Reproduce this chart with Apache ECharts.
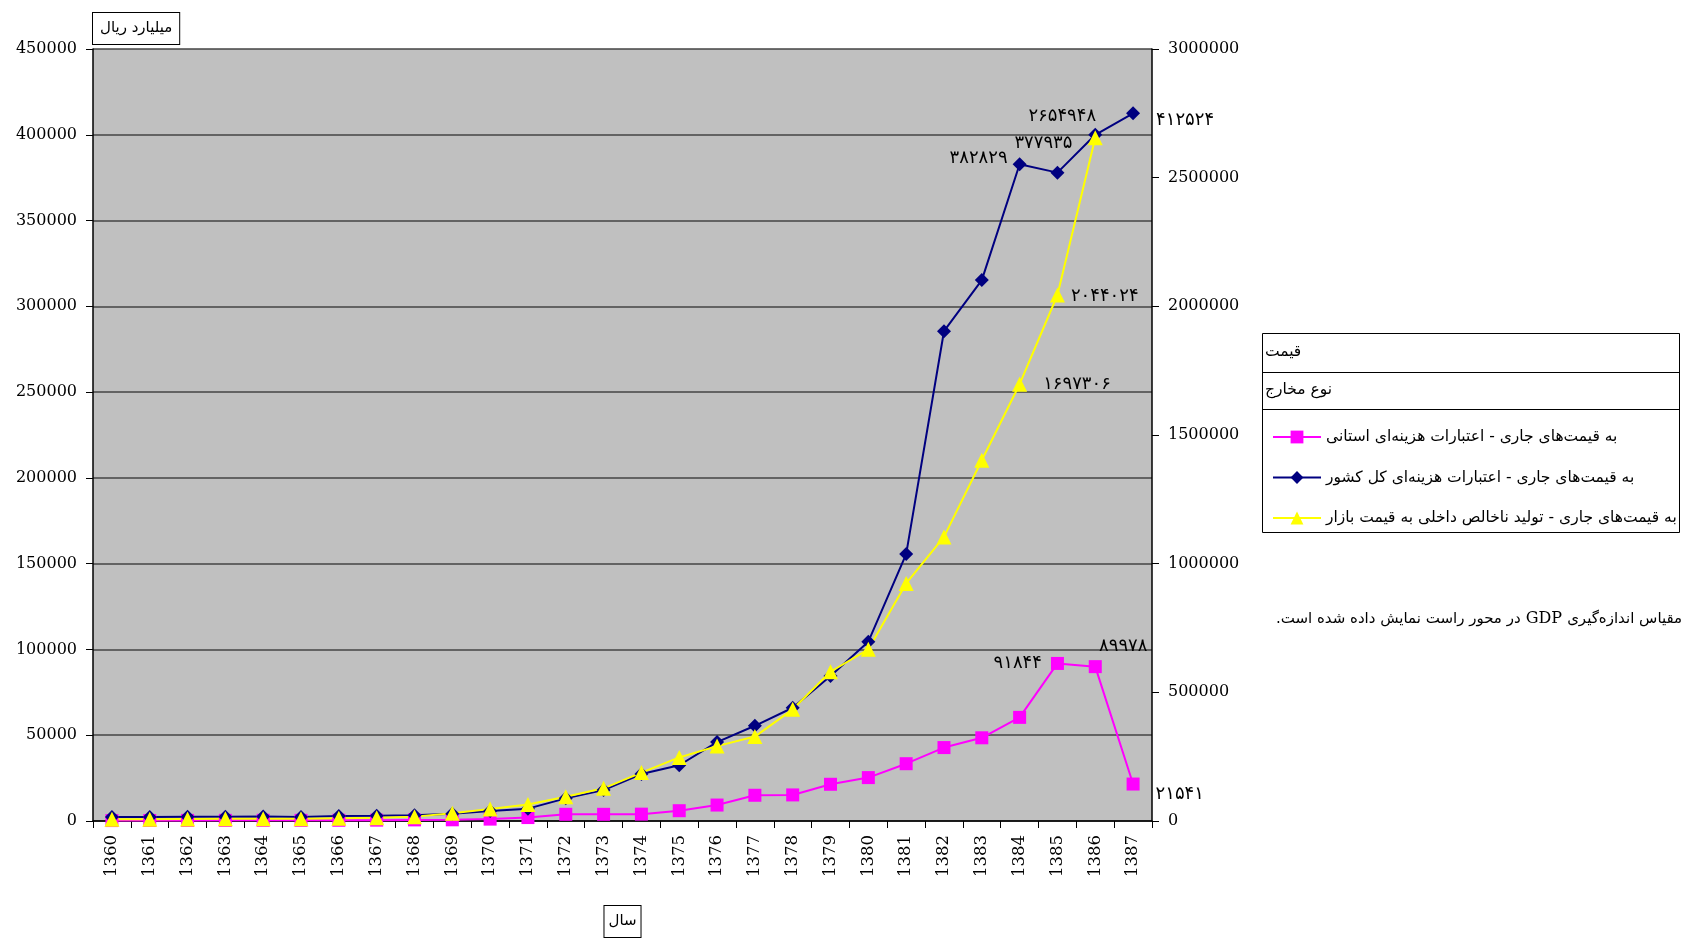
<!DOCTYPE html>
<html>
<head>
<meta charset="utf-8">
<script src="https://cdn.jsdelivr.net/npm/echarts@6/dist/echarts.min.js"></script>
<style>
html,body{margin:0;padding:0;background:#fff;}
#c{width:1684px;height:939px;}
</style>
</head>
<body>
<div id="c"></div>
<script>
// ---- data ----
const years = ['1360','1361','1362','1363','1364','1365','1366','1367','1368','1369','1370','1371','1372','1373','1374','1375','1376','1377','1378','1379','1380','1381','1382','1383','1384','1385','1386','1387'];
const provincialCredits = [250,300,350,380,400,380,420,500,650,700,1100,2000,3900,3900,4000,6000,9300,15000,15200,21400,25300,33400,42800,48500,60400,91844,89978,21541];
const totalCredits = [2300,2400,2500,2500,2600,2400,2900,3000,3400,4200,5800,7200,13200,18000,27400,32500,46000,55500,66000,84500,104500,155600,285500,315300,382829,377935,400000,412524];
const gdpMarket = [6500,7000,8000,8500,9000,9000,11000,13000,17000,30000,47000,64000,94000,127000,188000,247000,291000,328000,434000,580000,667000,923000,1104000,1402000,1697306,2044024,2654948,null];
const seriesNames = [
  'به قیمت‌های جاری - اعتبارات هزینه‌ای استانی',
  'به قیمت‌های جاری - اعتبارات هزینه‌ای کل کشور',
  'به قیمت‌های جاری - تولید ناخالص داخلی به قیمت بازار'
];
const leftAxis = {min:0, max:450000, interval:50000};
const rightAxis = {min:0, max:3000000, interval:500000};
const yAxisName = 'میلیارد ریال';
const xAxisName = 'سال';
const headerRow1 = 'قیمت';
const headerRow2 = 'نوع مخارج';
const noteLeft = '.در محور راست نمایش داده شده است';
const noteMid = ' GDP ';
const noteRight = 'مقیاس اندازه‌گیری';

// ---- helpers ----
const faDigits = '۰۱۲۳۴۵۶۷۸۹';
function toFa(n){ return String(n).replace(/[0-9]/g, d => faDigits[+d]); }
const labelFont = {fontFamily:'DejaVu Sans', fontSize:18, color:'#000'};
function withLabels(arr, spec){
  return arr.map((v,i)=>{
    if(spec[i] && v!=null){
      return {value:v, label:Object.assign({show:true, position:spec[i][0], offset:spec[i][1], formatter:toFa(v)}, labelFont)};
    }
    return v;
  });
}
const pinkSpec = {25:['left',[-4,0]], 26:['top',[28,0]], 27:['right',[11,10]]};
const blueSpec = {24:['left',[0,-6]], 25:['top',[-14,-8]], 27:['right',[11,7]]};
const yellowSpec = {24:['right',[11,0]], 25:['right',[1,1]], 26:['top',[-33,0]]};

const chart = echarts.init(document.getElementById('c'), null, {renderer:'canvas'});
const serifAxisLabel = {fontFamily:'DejaVu Serif', fontSize:16, color:'#000', margin:16, formatter:v=>String(v)};
const boxName = {fontFamily:'DejaVu Sans', fontSize:15, color:'#000', borderColor:'#000', borderWidth:1, backgroundColor:'#fff'};

chart.setOption({
  animation:false,
  backgroundColor:'#fff',
  grid:{left:93, top:49, width:1059, height:772, outerBoundsMode:'none', containLabel:false,
        show:true, backgroundColor:'#c0c0c0', borderWidth:0},
  xAxis:{
    type:'category', data:years, boundaryGap:true,
    name:xAxisName, nameLocation:'middle', nameGap:85,
    nameTextStyle:Object.assign({padding:[8,4,8,4]}, boxName),
    axisLine:{lineStyle:{color:'#000', width:1.5}},
    axisTick:{show:true, length:7, lineStyle:{color:'#000'}, alignWithLabel:false},
    axisLabel:{interval:0, rotate:90, fontFamily:'DejaVu Serif', fontSize:16.5, color:'#000', margin:14},
    splitLine:{show:false}
  },
  yAxis:[
    {type:'value', position:'left', min:leftAxis.min, max:leftAxis.max, interval:leftAxis.interval,
     name:yAxisName, nameLocation:'end', nameGap:5,
     nameTextStyle:Object.assign({align:'left', verticalAlign:'bottom', padding:[8,7,8,7]}, boxName),
     axisLine:{show:true, lineStyle:{color:'#000', width:1.5}},
     axisTick:{show:true, length:7, lineStyle:{color:'#000'}},
     axisLabel:serifAxisLabel,
     splitLine:{show:true, lineStyle:{color:'#444', width:1.5}}},
    {type:'value', position:'right', min:rightAxis.min, max:rightAxis.max, interval:rightAxis.interval,
     axisLine:{show:true, lineStyle:{color:'#000', width:1.5}},
     axisTick:{show:true, length:7, lineStyle:{color:'#000'}},
     axisLabel:serifAxisLabel,
     splitLine:{show:false}}
  ],
  legend:{
    orient:'vertical', left:1267, top:424, itemWidth:48, itemHeight:16, itemGap:24.5,
    data:seriesNames,
    textStyle:{fontFamily:'DejaVu Sans', fontSize:15.5, color:'#000'}
  },
  series:[
    {name:seriesNames[0], type:'line', yAxisIndex:0, data:withLabels(provincialCredits, pinkSpec),
     symbol:'rect', symbolSize:13, lineStyle:{color:'#ff00ff', width:2}, itemStyle:{color:'#ff00ff'}},
    {name:seriesNames[1], type:'line', yAxisIndex:0, data:withLabels(totalCredits, blueSpec),
     symbol:'diamond', symbolSize:14, lineStyle:{color:'#000080', width:2}, itemStyle:{color:'#000080'}},
    {name:seriesNames[2], type:'line', yAxisIndex:1, data:withLabels(gdpMarket, yellowSpec),
     symbol:'triangle', symbolSize:15, lineStyle:{color:'#ffff00', width:2}, itemStyle:{color:'#ffff00'}}
  ],
  graphic:[
    {type:'rect', shape:{x:1262.5, y:333.5, width:417, height:199}, style:{fill:'none', stroke:'#000', lineWidth:1}, z:-1},
    {type:'line', shape:{x1:1262.5, y1:372.5, x2:1679.5, y2:372.5}, style:{stroke:'#000', lineWidth:1}},
    {type:'line', shape:{x1:1262.5, y1:409.5, x2:1679.5, y2:409.5}, style:{stroke:'#000', lineWidth:1}},
    {type:'text', x:1265, y:352, style:{text:headerRow1, fontFamily:'DejaVu Sans', fontSize:15.5, fill:'#000', verticalAlign:'middle', align:'left'}},
    {type:'text', x:1265, y:390, style:{text:headerRow2, fontFamily:'DejaVu Sans', fontSize:15.5, fill:'#000', verticalAlign:'middle', align:'left'}},
    {type:'text', x:1276, y:619, style:{
      text:'{a|'+noteLeft+'}{b|'+noteMid+'}{a|'+noteRight+'}',
      rich:{a:{fontFamily:'DejaVu Sans', fontSize:15, fill:'#000'}, b:{fontFamily:'DejaVu Serif', fontSize:16, fill:'#000'}},
      verticalAlign:'middle', align:'left'}}
  ]
});
</script>
</body>
</html>
